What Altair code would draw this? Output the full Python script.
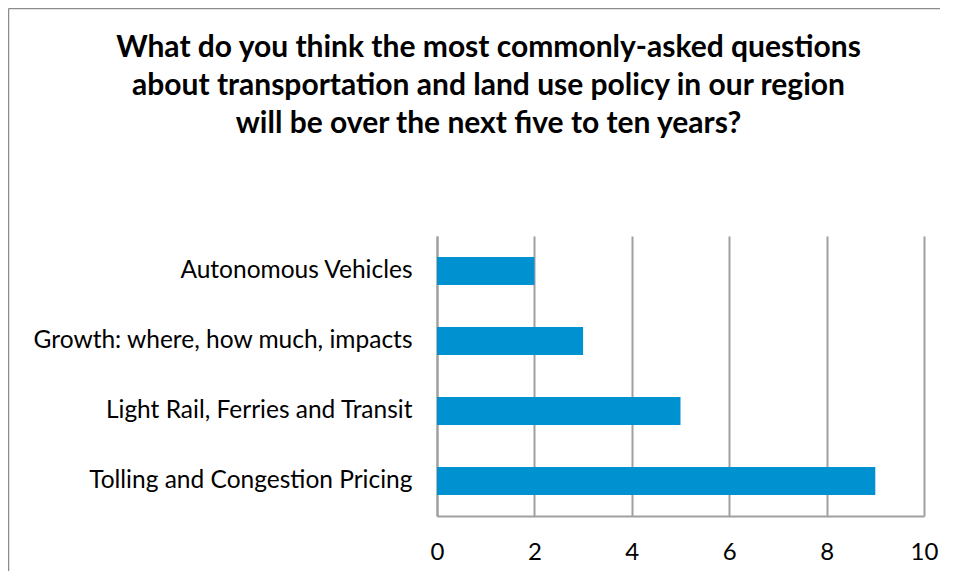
import altair as alt
import pandas as pd

categories = ["Autonomous Vehicles", "Growth: where, how much, impacts",
              "Light Rail, Ferries and Transit", "Tolling and Congestion Pricing"]
values = [2, 3, 5, 9]
x_ticks = [0, 2, 4, 6, 8, 10]
title_lines = ["What do you think the most commonly-asked questions",
               "about transportation and land use policy in our region",
               "will be over the next five to ten years?"]

df = pd.DataFrame({"category": categories, "value": values})

FONT = "Lato"

bars = alt.Chart(df).mark_bar(color="#0091D0").encode(
    x=alt.X("value:Q",
            scale=alt.Scale(domain=[0, 10], nice=False),
            axis=alt.Axis(values=x_ticks, title=None, grid=True, gridColor="#A0A0A0",
                          gridWidth=2, domainColor="#A0A0A0", domainWidth=2,
                          ticks=False, labelPadding=24, labelFontSize=24,
                          labelFont=FONT, labelColor="#000000", labelFlush=False)),
    y=alt.Y("category:N", sort=categories,
            scale=alt.Scale(paddingInner=0.6, paddingOuter=0.3),
            axis=alt.Axis(title=None, ticks=False, domainColor="#A0A0A0", domainWidth=2,
                          labelPadding=25, labelFontSize=24.5, labelFont=FONT,
                          labelColor="#000000", labelLimit=500)),
)

frame_df = pd.DataFrame({"k": [0]})
frame_left = alt.Chart(frame_df).mark_rule(stroke="#8C8C8C", strokeWidth=1.5, clip=False).encode(
    x=alt.value(-428.5), y=alt.value(-227.5), y2=alt.value(335)
)
frame_top = alt.Chart(frame_df).mark_rule(stroke="#8C8C8C", strokeWidth=1.5, clip=False).encode(
    x=alt.value(-428.5), x2=alt.value(503), y=alt.value(-227.5)
)

chart = alt.layer(frame_left, frame_top, bars).properties(
    width=487, height=280,
    autosize=alt.AutoSizeParams(type="none"),
    padding={"left": 429, "top": 228, "right": 24, "bottom": 55},
    title=alt.TitleParams(text=title_lines, anchor="middle", frame="group",
                          font=FONT, fontSize=30, fontWeight="bold", color="#000000",
                          lineHeight=38, dx=-192, offset=0, baseline="top", dy=131),
).configure_view(stroke=None)

chart.save("out.html", embed_options={"renderer": "svg", "actions": False})
